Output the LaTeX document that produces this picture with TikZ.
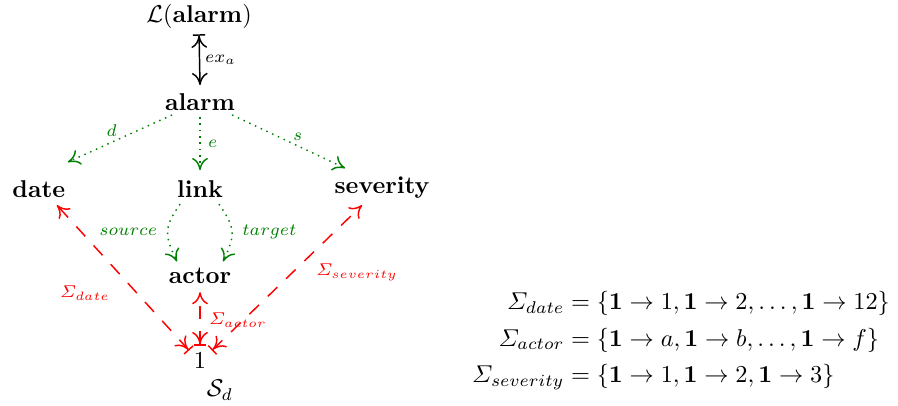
\documentclass[tikz,border=0pt]{standalone}
\usepackage{amsmath,amssymb}
\usetikzlibrary{arrows.meta}
\begin{document}
\begin{tikzpicture}[x=1pt,y=1pt,
  obj/.style={font=\bfseries, inner sep=0pt},
  tp/.tip={Computer Modern Rightarrow[length=5pt,width=6.5pt,line width=0.6pt]},
  br/.tip={Bar[width=5pt,line width=0.6pt]},
  grn/.style={draw=green!50!black, dotted, line width=0.6pt, -tp},
  sig/.style={draw=red, dash pattern=on 5.5pt off 5pt, line width=0.6pt, {br[sep=0pt]tp}-tp},
  glab/.style={text=green!50!black, font=\scriptsize, inner sep=1pt},
  rlab/.style={text=red, font=\scriptsize, inner sep=1pt}]
\useasboundingbox (0,0) rectangle (369.5,166.7);
\node[inner sep=0pt] (L) at (81.9,160.0) {$\mathcal{L}\mathbf{(alarm)}$};
\node[obj] (alarm) at (82.3,124.7) {alarm};
\node[obj] (date) at (16.0,88.9) {date};
\node[obj] (link) at (82.3,88.9) {link};
\node[obj] (severity) at (157.2,89.7) {severity};
\node[obj] (actor) at (82.3,53.1) {actor};
\node[inner sep=0pt] (one) at (82.3,18.5) {$1$};
\node[inner sep=0pt] (Sd) at (90.5,6.2) {$\mathcal{S}_d$};
\node[inner sep=0pt] (eq) at (280.2,26.7) {$\begin{aligned}
\varSigma_{date} &= \{\mathbf{1}\rightarrow 1,\mathbf{1}\rightarrow 2,\ldots,\mathbf{1}\rightarrow 12\}\\
\varSigma_{actor} &= \{\mathbf{1}\rightarrow a,\mathbf{1}\rightarrow b,\ldots,\mathbf{1}\rightarrow f\}\\
\varSigma_{severity} &= \{\mathbf{1}\rightarrow 1,\mathbf{1}\rightarrow 2,\mathbf{1}\rightarrow 3\}
\end{aligned}$};
% ex_a
\draw[line width=0.6pt, {br[sep=0pt]tp}-tp] ([yshift=-7.4pt]L.center) -- ([yshift=7pt]alarm.center)
  node[midway, right, inner sep=2pt, font=\scriptsize] (exa) {$ex_a$};
% green
\draw[grn] ([shift={(-11.5,-5.3)}]alarm.center) -- ([shift={(11.9,11.1)}]date.center)
  node[glab, pos=0.58, above=1pt] (dl) {$d$};
\draw[grn] ([shift={(0,-6.2)}]alarm.center) -- ([shift={(0,7.8)}]link.center)
  node[glab, pos=0.5, right=2pt] (el) {$e$};
\draw[grn] ([shift={(13.2,-5.3)}]alarm.center) -- ([shift={(-15.2,7.8)}]severity.center)
  node[glab, pos=0.58, above=1pt] (sl) {$s$};
\draw[grn] ([shift={(-8.2,-6.2)}]link.center) to[out=235, in=115, looseness=1.3]
  node[glab, pos=0.5, left=3pt] (src) {$source$} ([shift={(-9.5,6)}]actor.center);
\draw[grn] ([shift={(7.8,-6.2)}]link.center) to[out=305, in=65, looseness=1.3]
  node[glab, pos=0.5, right=3pt] (tgt) {$target$} ([shift={(9.5,6)}]actor.center);
% red
\draw[sig] ([shift={(-4.5,4)}]one.center) -- ([shift={(7.4,-6.6)}]date.center);
\draw[sig] ([shift={(0,6)}]one.center) -- ([shift={(0,-6.6)}]actor.center);
\draw[sig] ([shift={(4.9,4)}]one.center) -- ([shift={(-8.2,-7.4)}]severity.center);
\node[rlab] (sdl) at (35.0,46.1) {$\varSigma_{date}$};
\node[rlab] (sal) at (97.9,35.0) {$\varSigma_{actor}$};
\node[rlab] (ssl) at (146.9,54.7) {$\varSigma_{severity}$};
\end{tikzpicture}
\end{document}
